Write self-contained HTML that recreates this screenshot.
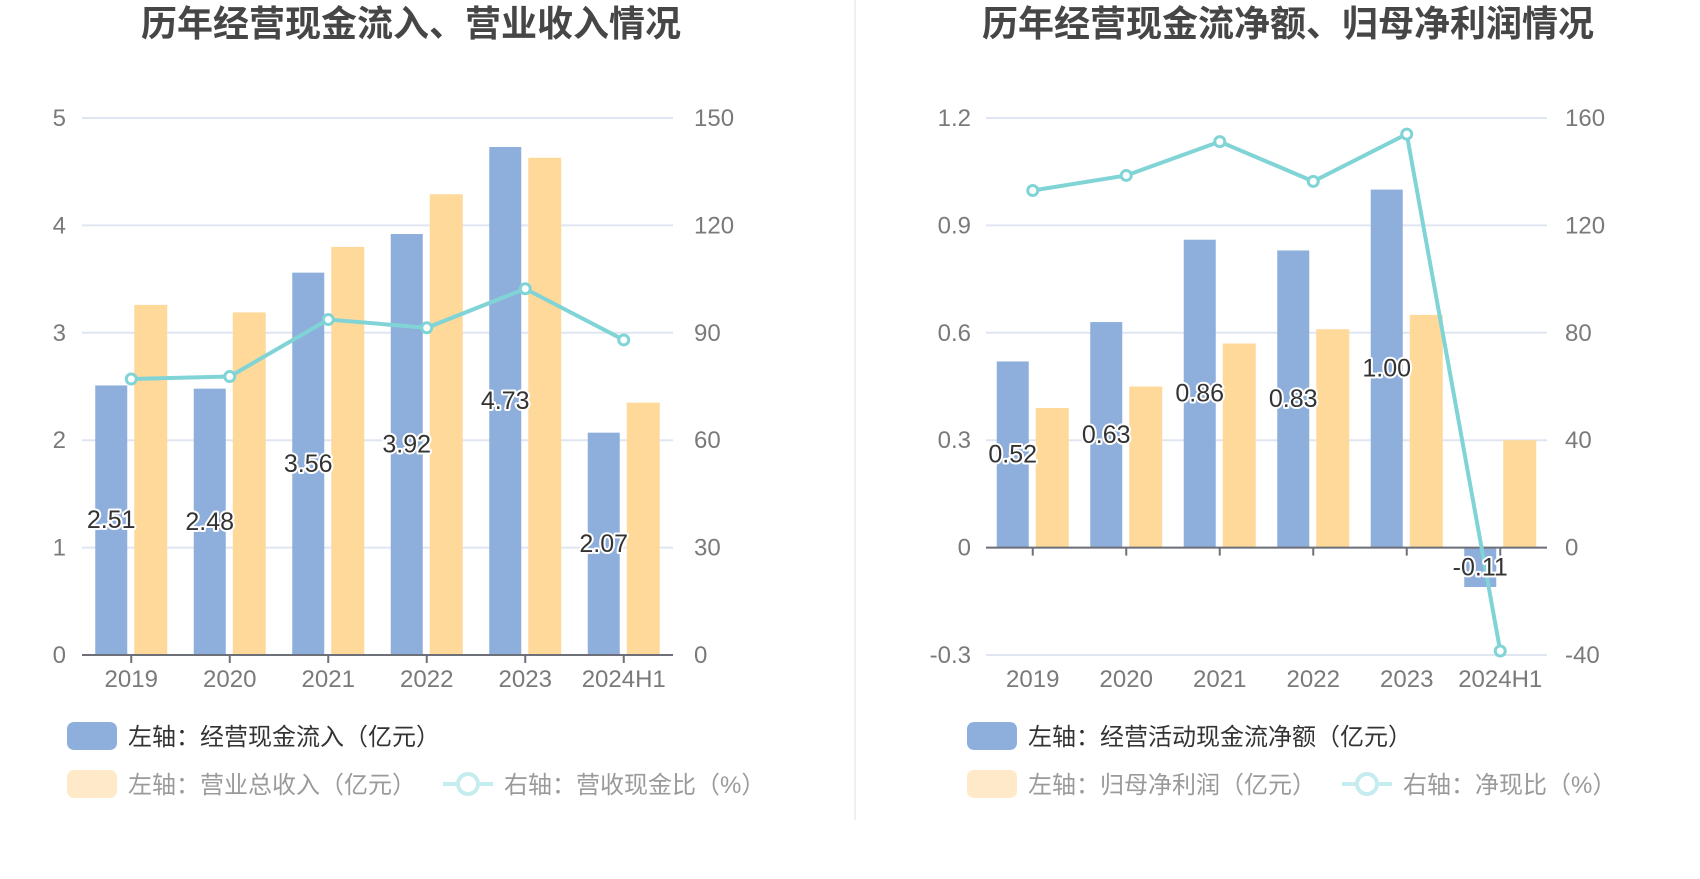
<!DOCTYPE html>
<html><head><meta charset="utf-8">
<style>
html,body{margin:0;padding:0;background:#fff;}
body{width:1700px;height:874px;overflow:hidden;font-family:"Liberation Sans","Noto Sans CJK SC",sans-serif;}
svg text{font-family:"Liberation Sans","Noto Sans CJK SC",sans-serif;}
</style></head>
<body>
<svg id="chart" width="1700" height="874" viewBox="0 0 1700 874" xmlns="http://www.w3.org/2000/svg"></svg>
<script>
// Chart 1 data
const categories = ["2019","2020","2021","2022","2023","2024H1"];
const c1Inflow = [2.51,2.48,3.56,3.92,4.73,2.07];
const c1Revenue = [3.26,3.19,3.80,4.29,4.63,2.35];
const c1Ratio = [77.1,77.8,93.7,91.4,102.3,88.0];
const c1LeftTicks = [0,1,2,3,4,5];
const c1RightTicks = [0,30,60,90,120,150];
// Chart 2 data
const c2NetCash = [0.52,0.63,0.86,0.83,1.00,-0.11];
const c2Profit = [0.39,0.45,0.57,0.61,0.65,0.30];
const c2Ratio = [133,138.6,151.2,136.4,154,-38.5];
const c2LeftTicks = [-0.3,0,0.3,0.6,0.9,1.2];
const c2LeftLabels = ["-0.3","0","0.3","0.6","0.9","1.2"];
const c2RightTicks = [-40,0,40,80,120,160];

const NS="http://www.w3.org/2000/svg";
const svg=document.getElementById('chart');
function mk(tag,attrs,parent){const e=document.createElementNS(NS,tag);for(const k in attrs)e.setAttribute(k,attrs[k]);(parent||svg).appendChild(e);return e;}

function drawChart(o){
  const g=mk('g',{});
  
  
  const top=118,bottom=655;
  const yL=v=>bottom-(v-o.lmin)/(o.lmax-o.lmin)*(bottom-top);
  const yR=v=>bottom-(v-o.rmin)/(o.rmax-o.rmin)*(bottom-top);
  const cw=(o.x1-o.x0)/categories.length;
  const xC=i=>o.x0+cw*(i+0.5);
  const t=mk('text',{x:o.titleX,y:36,'text-anchor':'middle','font-size':36,'font-weight':'bold',fill:'#464646'},g);
  t.textContent=o.title;
  
  
  o.lticks.forEach((v,i)=>{
    const y=yL(v);
    const gl=mk('line',{x1:o.x0,x2:o.x1,y1:y,y2:y,stroke:'#e0e6f1','stroke-width':2},g);
    
    
    const lt=mk('text',{x:o.lLabelX,y:y+8,'text-anchor':'end','font-size':24,fill:'#7a7a7a'},g);
    lt.textContent=o.llabels?o.llabels[i]:String(v);
    
    
  });
  o.rticks.forEach(v=>{
    const rt=mk('text',{x:o.rLabelX,y:yR(v)+8,'text-anchor':'start','font-size':24,fill:'#7a7a7a'},g);
    rt.textContent=String(v);
    
    
  });
  const bw=32;
  categories.forEach((c,i)=>{
    const b1x=xC(i)-20-bw/2, b2x=xC(i)+19-bw/2;
    const z=yL(0);
    const v1=o.s1[i], y1=yL(v1);
    const r1=mk('rect',{x:b1x,y:Math.min(z,y1),width:bw,height:Math.abs(z-y1),fill:'#8eaedb'},g);
    
    
    const v2=o.s2[i], y2=yL(v2);
    const r2=mk('rect',{x:b2x,y:Math.min(z,y2),width:bw+1,height:Math.abs(z-y2),fill:'#ffd99a'},g);
    
    
  });
  const z=yL(0);
  const ax=mk('line',{x1:o.x0,x2:o.x1,y1:z,y2:z,stroke:'#6e7079','stroke-width':2},g);
  
  
  categories.forEach((c,i)=>{
    const tk=mk('line',{x1:xC(i),x2:xC(i),y1:z,y2:z+8,stroke:'#6e7079','stroke-width':2},g);
    
    
    const xl=mk('text',{x:xC(i),y:687,'text-anchor':'middle','font-size':24,fill:'#7a7a7a'},g);
    xl.textContent=c;
    
    
  });
  const pts=o.line.map((v,i)=>xC(i)+','+yR(v)).join(' ');
  const pl=mk('polyline',{points:pts,fill:'none',stroke:'#80d4d6','stroke-width':4},g);
  
  
  o.line.forEach((v,i)=>{
    const cc=mk('circle',{cx:xC(i),cy:yR(v),r:5,fill:'#fff',stroke:'#80d4d6','stroke-width':3},g);
    
    
  });
  o.s1.forEach((v,i)=>{
    const my=(yL(v)+yL(0))/2;
    const dl=mk('text',{x:xC(i)-20,y:my+8,'text-anchor':'middle','font-size':25,fill:'#333',stroke:'#fff','stroke-width':4,'paint-order':'stroke','stroke-linejoin':'round'},g);
    dl.textContent=v.toFixed(2);
    
    
  });
  const lg=mk('g',{},g);
  
  
  const s1=mk('rect',{x:o.legX,y:722,width:50,height:28,rx:7,fill:'#8eaedb'},lg);
  
  
  const t1=mk('text',{x:o.legX+61,y:745,'font-size':24,fill:'#333'},lg);
  t1.textContent=o.leg1;
  
  
  const s2=mk('rect',{x:o.legX,y:770,width:50,height:28,rx:7,fill:'#ffe9c8'},lg);
  
  
  const t2=mk('text',{x:o.legX+61,y:793,'font-size':24,fill:'#9a9a9a'},lg);
  t2.textContent=o.leg2;
  
  
  const li=mk('line',{x1:o.leg3X,x2:o.leg3X+50,y1:784,y2:784,stroke:'#c5ecee','stroke-width':4},lg);
  
  
  const lc=mk('circle',{cx:o.leg3X+25,cy:784,r:10,fill:'#fff',stroke:'#c5ecee','stroke-width':4},lg);
  
  
  const t3=mk('text',{x:o.leg3X+61,y:793,'font-size':24,fill:'#9a9a9a'},lg);
  t3.textContent=o.leg3;
  
  
}

drawChart({name:'cash-inflow-revenue-chart',title:'历年经营现金流入、营业收入情况',titleX:411,
  x0:82,x1:673,lmin:0,lmax:5,rmin:0,rmax:150,lticks:c1LeftTicks,rticks:c1RightTicks,
  lLabelX:66,rLabelX:694,s1:c1Inflow,s2:c1Revenue,line:c1Ratio,s1name:'cash-inflow',s2name:'revenue',
  legX:67,leg3X:443,leg1:'左轴：经营现金流入（亿元）',leg2:'左轴：营业总收入（亿元）',leg3:'右轴：营收现金比（%）'});

drawChart({name:'net-cash-profit-chart',title:'历年经营现金流净额、归母净利润情况',titleX:1288,
  x0:986,x1:1547,lmin:-0.3,lmax:1.2,rmin:-40,rmax:160,lticks:c2LeftTicks,llabels:c2LeftLabels,rticks:c2RightTicks,
  lLabelX:971,rLabelX:1565,s1:c2NetCash,s2:c2Profit,line:c2Ratio,s1name:'net-cash',s2name:'net-profit',
  legX:967,leg3X:1342,leg1:'左轴：经营活动现金流净额（亿元）',leg2:'左轴：归母净利润（亿元）',leg3:'右轴：净现比（%）'});

const dv=mk('line',{x1:855,x2:855,y1:0,y2:820,stroke:'#f0f0f0','stroke-width':2});


</script>
</body></html>
